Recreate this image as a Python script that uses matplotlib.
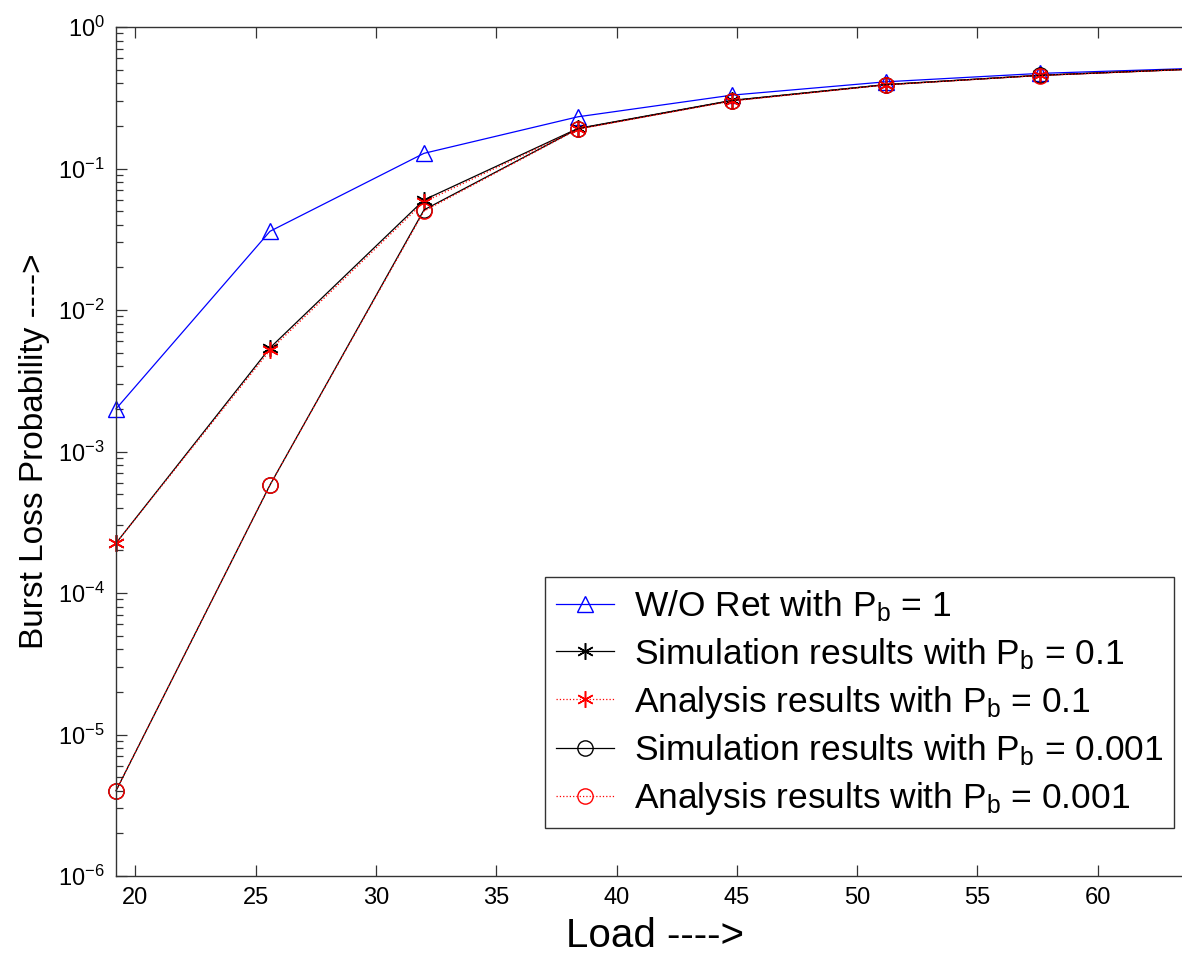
import numpy as np
import matplotlib
matplotlib.use('Agg')
import matplotlib.pyplot as plt
from matplotlib.ticker import FixedLocator, NullFormatter

plt.rcParams['font.family'] = ['Liberation Sans', 'DejaVu Sans']
plt.rcParams['mathtext.fontset'] = 'custom'
plt.rcParams['mathtext.rm'] = 'Liberation Sans'
plt.rcParams['mathtext.it'] = 'Liberation Sans'
plt.rcParams['mathtext.default'] = 'regular'

# Load values (x axis)
load = [19.2, 25.6, 32, 38.4, 44.8, 51.2, 57.6, 64]

# Burst loss probability
wo_ret_pb1 = [2.0e-3, 0.036, 0.128, 0.232, 0.33, 0.41, 0.47, 0.51]
sim_pb01 = [2.25e-4, 5.4e-3, 0.060, 0.192, 0.303, 0.392, 0.456, 0.505]
ana_pb01 = [2.25e-4, 5.2e-3, 0.058, 0.190, 0.301, 0.390, 0.455, 0.504]
sim_pb0001 = [4.0e-6, 5.8e-4, 0.051, 0.191, 0.302, 0.391, 0.455, 0.504]
ana_pb0001 = [4.0e-6, 5.8e-4, 0.050, 0.190, 0.300, 0.390, 0.454, 0.503]

labels = ['W/O Ret with P$_b$ = 1',
          'Simulation results with P$_b$ = 0.1',
          'Analysis results with P$_b$ = 0.1',
          'Simulation results with P$_b$ = 0.001',
          'Analysis results with P$_b$ = 0.001']

x_ticks = [20, 25, 30, 35, 40, 45, 50, 55, 60]
y_exponents = [-6, -5, -4, -3, -2, -1, 0]

W, H = 1182, 956
fig = plt.figure(figsize=(W / 100, H / 100), dpi=100)
ax = fig.add_axes([116 / W, 80 / H, (1194 - 116) / W, (876 - 27) / H])

asterisk = (6, 2, 0)
ax.plot(load, wo_ret_pb1, color='blue', lw=0.9, marker='^', ms=12,
        mfc='none', mec='blue', mew=1.0, label=labels[0], clip_on=False)
ax.plot(load, sim_pb01, color='black', lw=0.9, marker=asterisk, ms=12,
        mec='black', mew=1.1, label=labels[1], clip_on=False)
ax.plot(load, ana_pb01, color='red', lw=0.9, ls=':', marker=asterisk, ms=12,
        mec='red', mew=1.1, label=labels[2], clip_on=False)
ax.plot(load, sim_pb0001, color='black', lw=0.9, marker='o', ms=11,
        mfc='none', mec='black', mew=1.0, label=labels[3], clip_on=False)
ax.plot(load, ana_pb0001, color='red', lw=0.9, ls=':', marker='o', ms=11,
        mfc='none', mec='red', mew=1.0, label=labels[4], clip_on=False)

ax.set_yscale('log')
ax.set_xlim(19.2, 64)
ax.set_ylim(1e-6, 1)
ax.set_xticks(x_ticks)
ax.set_yticks([10.0 ** e for e in y_exponents])
ax.set_yticklabels(['$10^{%d}$' % e for e in y_exponents])
minor = [m * 10.0 ** e for e in y_exponents[:-1] for m in range(2, 10)]
ax.yaxis.set_minor_locator(FixedLocator(minor))
ax.yaxis.set_minor_formatter(NullFormatter())

for s in ax.spines.values():
    s.set_color('#333333')
    s.set_linewidth(1.0)
ax.tick_params(which='both', direction='in', top=True, right=True,
               color='#333333', labelsize=17, pad=8)
ax.tick_params(which='major', length=8, width=0.9)
ax.tick_params(which='minor', length=5, width=0.9)

ax.set_xlabel('Load ---->', fontsize=29, labelpad=6)
ax.set_ylabel('Burst Loss Probability ---->', fontsize=24, labelpad=6)

leg = ax.legend(loc='lower right', bbox_to_anchor=(1174 / W, 1 - 828 / H),
                bbox_transform=fig.transFigure, fontsize=25.5, frameon=True,
                fancybox=False, edgecolor='black', borderaxespad=0,
                handlelength=1.65, handletextpad=0.55, labelspacing=0.34,
                borderpad=0.3)
leg.get_frame().set_linewidth(1.0)

fig.savefig('out.png', dpi=100)
